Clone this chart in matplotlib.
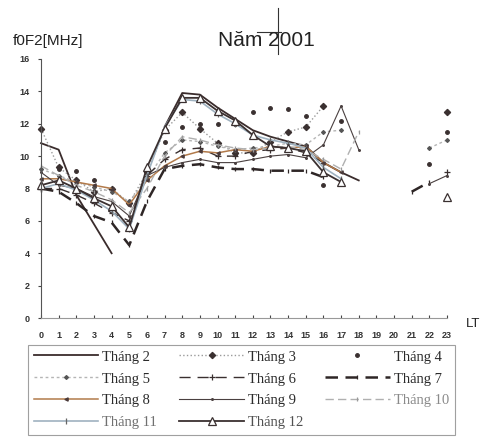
import numpy as np
import matplotlib
matplotlib.use("Agg")
import matplotlib.pyplot as plt
from matplotlib.lines import Line2D

N = np.nan
hours = list(range(24))
y_ticks = [0, 2, 4, 6, 8, 10, 12, 14, 16]

t2 = [10.8, 10.4, 7.6, 5.8, 4.0, N, N, 11.8, 13.9, 13.8, 13.0, 12.3, 11.6, 11.2, 10.9, 10.6, 9.6, 9.0, 8.5, N, N, N, N, N]
t3 = [11.7, 9.3, 8.5, 7.8, 8.0, 7.1, 9.0, 11.6, 12.7, 11.7, 10.8, 10.2, 10.2, 10.9, 11.5, 11.8, 13.1, N, N, N, N, N, N, 12.7]
t4 = [N, 9.2, 9.1, 8.5, N, N, N, 10.9, 11.8, 12.0, 12.0, 12.0, 12.7, 13.0, 12.9, 12.5, 8.2, 12.2, N, N, N, N, 9.5, 11.5]
t5 = [9.2, 8.8, 8.4, 8.1, 7.8, 7.2, 8.6, 10.2, 11.0, 10.9, 10.6, 10.4, 10.5, 10.6, 10.8, 10.7, 11.5, 11.6, N, N, N, N, 10.5, 11.0]
t6 = [8.0, 8.0, 7.6, 7.1, 6.5, 6.0, 8.8, 9.8, 10.4, 10.5, 10.0, 10.0, 10.3, 10.4, 10.5, 10.2, 9.6, N, N, N, N, N, N, 9.0]
t7 = [8.0, 7.8, 7.1, 6.3, 5.9, 4.5, 7.2, 9.2, 9.4, 9.5, 9.3, 9.2, 9.2, 9.1, 9.1, 9.1, 8.7, N, N, N, N, 7.8, 8.4, N]
t8 = [8.6, 8.6, 8.4, 8.2, 8.0, 7.0, 8.5, 9.4, 10.0, 10.3, 10.2, 10.4, 10.3, 10.6, 10.5, 10.6, 9.6, 9.0, N, N, N, N, N, N]
t9 = [9.0, 8.2, 8.0, 7.5, 7.2, 6.3, 8.8, 9.3, 9.6, 9.8, 9.6, 9.6, 9.8, 10.0, 10.1, 9.9, 10.7, 13.1, 10.4, N, N, N, 8.3, 8.8]
t10 = [9.4, 8.8, 8.2, 7.8, 7.3, 6.5, 8.0, 10.0, 11.2, 11.0, 10.7, 10.5, 10.4, 10.5, 10.6, 10.4, 9.8, 9.2, 11.5, N, N, N, N, N]
t11 = [8.0, 8.3, 7.9, 7.3, 6.6, 5.5, 8.8, 11.8, 13.5, 13.4, 12.6, 12.0, 11.3, 11.0, 10.8, 10.5, 9.3, 8.6, N, N, N, N, N, N]
t12 = [8.2, 8.5, 8.0, 7.4, 6.9, 5.6, 9.3, 11.7, 13.6, 13.6, 12.8, 12.2, 11.3, 10.6, 10.5, 10.3, 9.0, 8.4, N, N, N, N, N, 7.5]

labels = ["Tháng 2", "Tháng 3", "Tháng 4", "Tháng 5", "Tháng 6", "Tháng 7",
          "Tháng 8", "Tháng 9", "Tháng 10", "Tháng 11", "Tháng 12"]
series = [t2, t3, t4, t5, t6, t7, t8, t9, t10, t11, t12]

styles = [
    dict(color="#3a2c2c", lw=1.3, ls="-", marker=None),
    dict(color="#9a9a9a", lw=1.0, ls=":", marker="D", ms=3.2, mfc="#3a3030", mec="#3a3030"),
    dict(color="#3a3030", lw=0, ls="none", marker="o", ms=2.6, mfc="#3a3030", mec="#3a3030"),
    dict(color="#b5b5b5", lw=1.0, ls=(0, (2, 2)), marker="D", ms=2.0, mfc="#555555", mec="#555555"),
    dict(color="#3a3030", lw=1.0, ls=(0, (8, 5)), marker="+", ms=5, mfc="#3a3030", mec="#3a3030"),
    dict(color="#2e2626", lw=1.8, ls=(0, (5, 3)), marker="|", ms=3, mfc="#2e2626", mec="#2e2626"),
    dict(color="#b27a4a", lw=1.1, ls="-", marker="<", ms=2.4, mfc="#4a3a3a", mec="#4a3a3a"),
    dict(color="#4a4040", lw=0.8, ls="-", marker=".", ms=2.5, mfc="#4a4040", mec="#4a4040"),
    dict(color="#b0b0b0", lw=1.0, ls=(0, (6, 3)), marker="|", ms=2.5, mfc="#999999", mec="#999999"),
    dict(color="#9fb2c0", lw=1.2, ls="-", marker="|", ms=5, mfc="#666666", mec="#666666"),
    dict(color="#3a3030", lw=1.3, ls="-", marker="^", ms=5.5, mfc="white", mec="#3a3030"),
]
text_colors = ["#2b2b2b"] * 8 + ["#8a8a8a", "#707070", "#505050"]

fig = plt.figure(figsize=(4.9, 4.46), dpi=100)
ax = fig.add_axes([41 / 490, 1 - 318 / 446, 406 / 490, 259 / 446])

handles = []
for lab, vals, st in zip(labels, series, styles):
    kw = dict(color=st["color"], linewidth=st["lw"], linestyle=st["ls"])
    if st["marker"]:
        kw.update(marker=st["marker"], markersize=st["ms"], markerfacecolor=st["mfc"],
                  markeredgecolor=st["mec"], markeredgewidth=0.9)
    (ln,) = ax.plot(hours, vals, label=lab, clip_on=False, **kw)
    handles.append(ln)

ax.set_xlim(0, 23)
ax.set_ylim(0, 16)
ax.set_xticks(hours)
ax.set_xticklabels([str(h) for h in hours])
ax.set_yticks(y_ticks)
ax.set_yticklabels([str(v) for v in y_ticks])
for s in ["top", "right"]:
    ax.spines[s].set_visible(False)
ax.spines["left"].set_color("#555555")
ax.spines["bottom"].set_color("#999999")
ax.spines["left"].set_linewidth(0.8)
ax.spines["bottom"].set_linewidth(0.8)
ax.tick_params(axis="x", direction="in", length=2, pad=9, labelsize=6.5, colors="#444444")
ax.tick_params(axis="y", direction="out", length=2, pad=6, labelsize=6.5, colors="#444444")
for t in ax.get_xticklabels() + ax.get_yticklabels():
    t.set_fontweight("bold")
    t.set_fontfamily("Liberation Sans")
    t.set_color("#333333")

fig.text(13 / 490, 1 - 41 / 446, "f0F2[MHz]", fontsize=11, family="Liberation Sans",
         ha="left", va="center", color="#222222")
fig.text(266 / 490, 1 - 41 / 446, "Năm 2001", fontsize=15, family="Liberation Sans",
         ha="center", va="center", color="#222222")
fig.text(473 / 490, 1 - 324 / 446, "LT", fontsize=9.5, family="Liberation Sans",
         ha="center", va="center", color="#222222")

# scan crosshair mark over the title
fig.add_artist(Line2D([278 / 490, 278 / 490], [1 - 8 / 446, 1 - 54 / 446], color="#333333", lw=0.8))
fig.add_artist(Line2D([257 / 490, 281 / 490], [1 - 32 / 446, 1 - 32 / 446], color="#333333", lw=0.8))

# legend filled row-wise like the original: reorder for column-wise filling
order = [0, 3, 6, 9, 1, 4, 7, 10, 2, 5, 8]
leg = fig.legend(handles=[handles[i] for i in order], labels=[labels[i] for i in order], ncol=3,
                 loc="upper left", bbox_to_anchor=(28 / 490, 1 - 349 / 446, 427 / 490, 0.01),
                 mode="expand", frameon=True, fancybox=False, edgecolor="#888888",
                 prop={"family": "Liberation Serif", "size": 10.5},
                 handlelength=4.4, handletextpad=0.3, labelspacing=0.6,
                 columnspacing=0.8, borderpad=0.4, borderaxespad=0.0)
leg.get_frame().set_linewidth(0.8)
for txt in leg.get_texts():
    txt.set_color(text_colors[labels.index(txt.get_text())])

fig.savefig("out.png", dpi=100, facecolor="white")
